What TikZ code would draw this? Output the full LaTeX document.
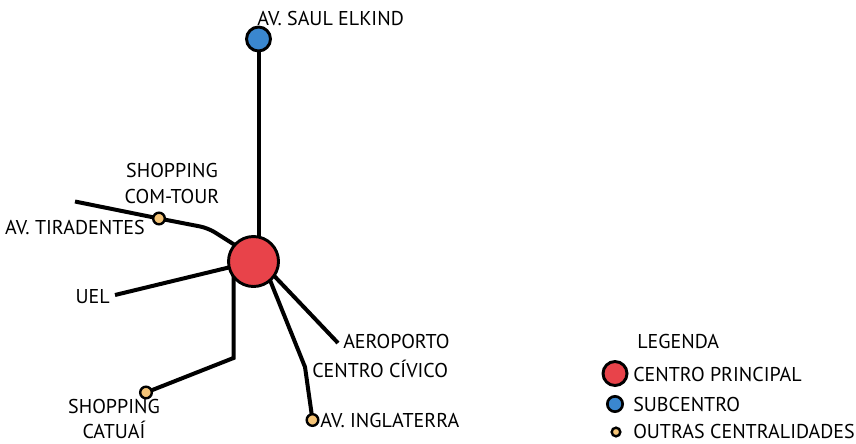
\documentclass[tikz,border=0pt]{standalone}
\usepackage{fontspec}
\setmainfont{PT Sans}
\usetikzlibrary{backgrounds,calc}
\definecolor{vermelho}{HTML}{E8434A}
\definecolor{azul}{HTML}{3A87CF}
\definecolor{amarelo}{HTML}{F5C477}
\begin{document}
\begin{tikzpicture}[x=0.75pt,y=-0.75pt]
\tikzstyle{every node}=[font=\fontsize{15}{19.5}\selectfont,inner sep=0pt]
\tikzstyle{via}=[line width=3pt]
\tikzstyle{principal}=[circle,draw,line width=2.2pt,fill=vermelho,minimum size=37.5pt]
\tikzstyle{sub}=[circle,draw,line width=2.2pt,fill=azul,minimum size=18pt]
\tikzstyle{outra}=[circle,draw,line width=1.8pt,fill=amarelo,minimum size=8.7pt]
\useasboundingbox (0,0) rectangle (856,443);

% centralidades
\node[principal] (centro) at (253.5,261.5) {};
\node[sub] (saul) at (258.5,39) {};
\node[outra] (tiradentes) at (159,218.5) {};
\node[outra] (catuai) at (146,392.5) {};
\node[outra] (inglaterra) at (312.5,420) {};

\coordinate (tfim) at (75,201.5);
\coordinate (tdobra) at (208,228);
\coordinate (uel) at (115,295);
\coordinate (cdobra) at (233.5,358);
\coordinate (cvdobra) at (305,367);
\coordinate (aero) at (338,343);

% vias
\begin{scope}[on background layer]
\draw[via] (saul) -- (saul |- centro.center);
\draw[via,rounded corners=6pt] (tfim) -- (tiradentes.center) -- (tdobra) -- ($(centro.center)+(-2,-6)$);
\draw[via] (uel) -- (centro.center);
\draw[via] (catuai.center) -- (cdobra) -- (cdobra |- centro.center);
\draw[via] (inglaterra.center) -- (cvdobra) -- ($(centro.center)+(9,0)$);
\draw[via] (aero) -- ($(centro.center)+(7,0)$);
\end{scope}

% nomes
\node[anchor=base west] (lsaul) at (257,25) {AV. SAUL ELKIND};
\node[align=center,anchor=north] (lcomtour) at (172,163) {SHOPPING\\COM-TOUR};
\node[anchor=base east] (ltiradentes) at (145,234) {AV. TIRADENTES};
\node[anchor=base east] (luel) at (110,303) {UEL};
\node[align=center,anchor=north,font=\fontsize{15}{18.75}\selectfont] (lcatuai) at (114,399) {SHOPPING\\CATUAÍ};
\node[anchor=base west] (laero) at (343,348) {AEROPORTO};
\node[anchor=base west] (lcivico) at (312,377) {CENTRO CÍVICO};
\node[anchor=base west] (linglaterra) at (320,427) {AV. INGLATERRA};

% legenda
\node[anchor=base west] (legenda) at (637,348) {LEGENDA};
\node[principal,minimum size=18pt] (legprincipal) at (615,373.5) {};
\node[sub,minimum size=11.5pt,line width=2pt] (legsub) at (615,404) {};
\node[outra,minimum size=6.5pt] (legoutra) at (616,432) {};
\node[anchor=base west] (tprincipal) at (633,381.5) {CENTRO PRINCIPAL};
\node[anchor=base west] (tsub) at (633,411) {SUBCENTRO};
\node[anchor=base west] (toutra) at (633,438) {OUTRAS CENTRALIDADES};
\end{tikzpicture}
\end{document}
